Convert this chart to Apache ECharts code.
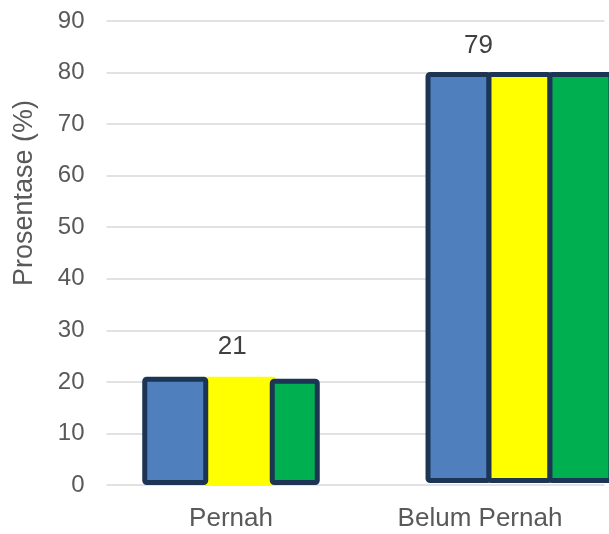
<!DOCTYPE html>
<html>
<head>
<meta charset="utf-8">
<script src="https://cdn.jsdelivr.net/npm/echarts@6/dist/echarts.min.js"></script>
<style>
  html, body { margin: 0; padding: 0; background: #ffffff; }
  #chart { width: 609px; height: 534px; }
</style>
</head>
<body>
<div id="chart"></div>
<script>
// Categories and percentages per colour group
const categories = ['Pernah', 'Belum Pernah'];
const blueValues = [21, 79];
const yellowValues = [21, 79];
const greenValues = [20.6, 79];

// Value axis
const yMin = 0;
const yMax = 90;
const yStep = 10;
const yTitle = 'Prosentase (%)';

const BLUE = '#4f7fbc';
const YELLOW = '#ffff00';
const GREEN = '#00b050';
const EDGE = '#1d3554';
const FONT = '"Liberation Sans", Arial, sans-serif';
const OVERLAP = '-7.6%'; // neighbouring bars share one outline

// keep only the value of one category, the other becomes a gap
const pick = (arr, i) => arr.map((v, j) => (j === i ? v : '-'));

const edged = (color) => ({ color: color, borderColor: EDGE, borderWidth: 5, borderRadius: 2 });

const chart = echarts.init(document.getElementById('chart'), null, { renderer: 'canvas' });

chart.setOption({
  animation: false,
  backgroundColor: '#ffffff',
  grid: [
    { left: 106.5, right: 4.5, top: 21, bottom: 49, containLabel: false },
    // second group sits on its own, slightly raised and pushed past the right edge
    { left: 251, right: 0, top: 14.7, bottom: 51, containLabel: false }
  ],
  xAxis: [
    {
      type: 'category', gridIndex: 0, data: categories,
      axisLine: { show: false }, axisTick: { show: false },
      axisLabel: { color: '#595959', fontFamily: FONT, fontSize: 26, margin: 21 }
    },
    { type: 'category', gridIndex: 1, data: categories, show: false }
  ],
  yAxis: [
    {
      type: 'value', gridIndex: 0, min: yMin, max: yMax, interval: yStep,
      axisLine: { show: false }, axisTick: { show: false },
      axisLabel: { color: '#595959', fontFamily: FONT, fontSize: 24, margin: 22 },
      splitLine: { lineStyle: { color: '#d9d9d9', width: 1.5 } }
    },
    { type: 'value', gridIndex: 1, min: yMin, max: yMax, interval: yStep, show: false, splitLine: { show: false } }
  ],
  graphic: [
    {
      type: 'text', x: 25, y: 193, rotation: Math.PI / 2,
      style: {
        text: yTitle, fill: '#595959', font: '27px ' + FONT,
        align: 'center', verticalAlign: 'middle'
      }
    }
  ],
  series: [
    // first group
    { type: 'bar', xAxisIndex: 0, yAxisIndex: 0, z: 3, data: pick(blueValues, 0), barWidth: 66, barGap: OVERLAP, itemStyle: edged(BLUE) },
    {
      type: 'bar', xAxisIndex: 0, yAxisIndex: 0, z: 1, data: pick(yellowValues, 0), barWidth: 72, barGap: OVERLAP,
      itemStyle: { color: YELLOW },
      label: { show: true, position: 'top', distance: 17, offset: [-7, 0], color: '#404040', fontFamily: FONT, fontSize: 26 }
    },
    { type: 'bar', xAxisIndex: 0, yAxisIndex: 0, z: 3, data: pick(greenValues, 0), barWidth: 50, barGap: OVERLAP, itemStyle: edged(GREEN) },
    // second group
    { type: 'bar', xAxisIndex: 1, yAxisIndex: 1, clip: false, data: pick(blueValues, 1), barWidth: 66, barGap: OVERLAP, itemStyle: edged(BLUE) },
    {
      type: 'bar', xAxisIndex: 1, yAxisIndex: 1, clip: false, data: pick(yellowValues, 1), barWidth: 66, barGap: OVERLAP,
      itemStyle: edged(YELLOW),
      label: { show: true, position: 'top', distance: 13, offset: [-41, 0], color: '#404040', fontFamily: FONT, fontSize: 26 }
    },
    { type: 'bar', xAxisIndex: 1, yAxisIndex: 1, clip: false, data: pick(greenValues, 1), barWidth: 66, barGap: OVERLAP, itemStyle: edged(GREEN) }
  ]
});
</script>
</body>
</html>
